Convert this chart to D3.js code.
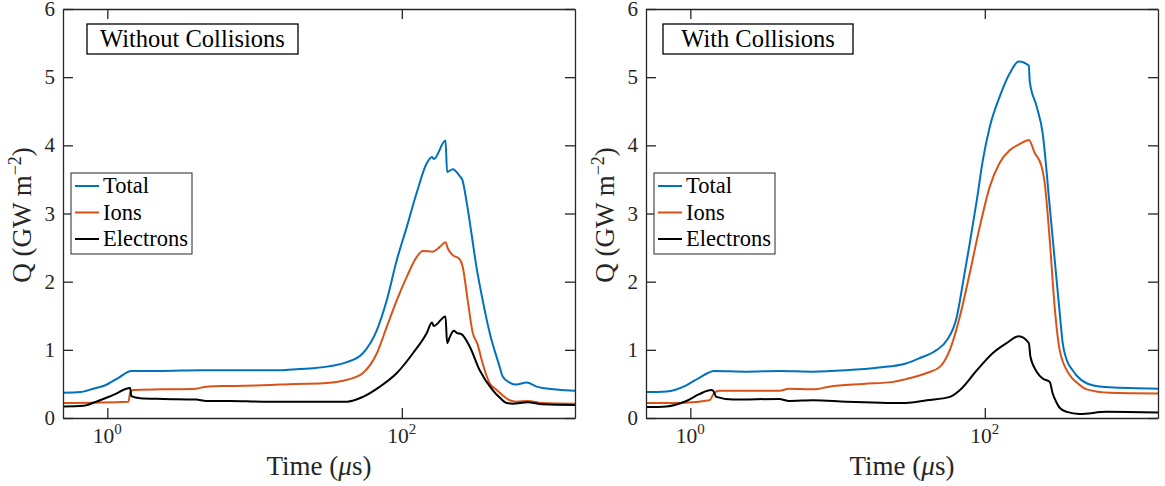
<!DOCTYPE html>
<html><head><meta charset="utf-8">
<script src="https://cdn.jsdelivr.net/npm/d3@7"></script>
<style>
body{margin:0;background:#fff}
text{font-family:"Liberation Serif","Times New Roman",serif;fill:#262626}
</style>
</head><body>
<svg id="c" width="1165" height="486"></svg>
<script>
// ---- data: [time (µs), Q (GW m^-2)] ----
const leftTotal = [[0.5,0.37],[0.656,0.38],[0.804,0.43],[0.969,0.48],[1.19,0.59],[1.455,0.69],[2.29,0.69],[4.27,0.70],[9.32,0.70],[14.9,0.70],[20.3,0.72],[24.9,0.73],[42.4,0.82],[54.4,0.95],[67.7,1.29],[79.1,1.73],[92.5,2.32],[108,2.80],[126,3.30],[148,3.74],[160,3.83],[165,3.80],[198,4.07],[203,3.61],[222,3.65],[247,3.55],[258,3.49],[274,3.20],[297,2.71],[321,2.22],[354,1.73],[395,1.25],[462,0.75],[484,0.61],[540,0.52],[599,0.49],[704,0.52],[823,0.46],[903,0.44],[1500,0.40]];
const leftIons = [[0.5,0.22],[1.39,0.24],[1.43,0.37],[1.50,0.41],[2.40,0.42],[4.01,0.43],[4.69,0.46],[6.82,0.47],[11.4,0.48],[19.1,0.50],[29.1,0.51],[42.4,0.56],[54.4,0.66],[67.7,0.95],[79.1,1.34],[92.5,1.73],[108,2.07],[126,2.36],[139,2.45],[162,2.44],[181,2.51],[198,2.58],[205,2.49],[222,2.39],[247,2.33],[259,2.22],[280,1.73],[303,1.25],[327,1.08],[354,0.80],[395,0.51],[441,0.41],[540,0.26],[599,0.24],[714,0.25],[903,0.22],[1500,0.21]];
const leftElectrons = [[0.5,0.17],[0.688,0.18],[0.842,0.24],[1.10,0.34],[1.43,0.44],[1.455,0.32],[1.67,0.29],[2.40,0.28],[4.01,0.27],[4.69,0.25],[6.82,0.25],[11.4,0.24],[29.1,0.24],[42.4,0.24],[54.4,0.31],[71.0,0.46],[92.5,0.66],[119,0.95],[148,1.25],[160,1.40],[165,1.35],[198,1.49],[203,1.10],[212,1.19],[225,1.28],[236,1.25],[254,1.23],[289,1.05],[338,0.70],[414,0.41],[462,0.30],[515,0.22],[566,0.21],[714,0.23],[903,0.20],[1500,0.19]];

const rightTotal = [[0.5,0.38],[0.688,0.39],[0.94,0.48],[1.15,0.59],[1.455,0.69],[2.40,0.68],[4.01,0.69],[6.82,0.68],[11.4,0.70],[19.1,0.74],[29.1,0.80],[36.2,0.88],[47.3,1.00],[55.2,1.14],[64.6,1.49],[71.0,1.98],[79.1,2.57],[88.3,3.20],[96.9,3.78],[108,4.27],[126,4.71],[148,5.06],[170,5.23],[199,5.17],[202,4.93],[225,4.57],[247,4.18],[276,3.10],[298,2.33],[322,1.56],[338,1.10],[360,0.85],[395,0.70],[421,0.62],[491,0.51],[540,0.48],[704,0.45],[1500,0.43]];
const rightIons = [[0.5,0.22],[0.842,0.22],[1.35,0.26],[1.455,0.37],[1.57,0.40],[2.40,0.40],[4.01,0.40],[4.69,0.43],[6.82,0.42],[8.75,0.46],[14.9,0.50],[23.8,0.53],[29.1,0.57],[40.4,0.66],[49.5,0.75],[57.9,1.00],[67.7,1.49],[79.1,2.13],[92.5,2.81],[108,3.39],[126,3.74],[148,3.93],[173,4.02],[199,4.08],[218,3.89],[243,3.69],[255,3.45],[276,2.61],[298,1.63],[322,1.00],[377,0.63],[421,0.52],[491,0.42],[704,0.37],[1500,0.36]];
const rightElectrons = [[0.5,0.16],[0.688,0.17],[0.94,0.25],[1.15,0.35],[1.39,0.41],[1.43,0.40],[1.50,0.31],[1.96,0.27],[4.01,0.28],[4.69,0.25],[6.82,0.26],[11.4,0.24],[29.1,0.22],[40.4,0.26],[57.9,0.31],[67.7,0.41],[88.3,0.70],[113,0.95],[141,1.10],[170,1.20],[199,1.10],[204,0.90],[225,0.68],[247,0.58],[276,0.53],[289,0.36],[308,0.22],[322,0.15],[360,0.09],[441,0.06],[671,0.09],[1500,0.08]];

const seriesNames = ["Total","Ions","Electrons"];
const seriesColors = ["#0072BD","#D95319","#000000"];
const panelTitles = ["Without Collisions","With Collisions"];
const timeDomain = [0.5, 1500];
const timeTicks = [1, 100];
const timeTickExp = ["0","2"];
const qDomain = [0, 6];
const qTicks = [0,1,2,3,4,5,6];

// ---- layout ----
const svg = d3.select("#c");
const yTop = 9, yBottom = 418;
const panels = [
  {x0:63, x1:575, title:panelTitles[0], data:[leftTotal,leftIons,leftElectrons], titleW:211, titleOff:24},
  {x0:646, x1:1158, title:panelTitles[1], data:[rightTotal,rightIons,rightElectrons], titleW:190, titleOff:17}
];
const axisColor = "#262626";

panels.forEach((p, pi) => {
  const x = d3.scaleLog().domain(timeDomain).range([p.x0, p.x1]);
  const y = d3.scaleLinear().domain(qDomain).range([yBottom, yTop]);
  const g = svg.append("g");

  // lines
  const line = d3.line().x(d => x(d[0])).y(d => y(d[1])).curve(d3.curveMonotoneX);
  const clipId = "clip" + pi;
  svg.append("clipPath").attr("id", clipId).append("rect")
    .attr("x", p.x0).attr("y", yTop).attr("width", p.x1 - p.x0).attr("height", yBottom - yTop);
  const lg = g.append("g").attr("clip-path", `url(#${clipId})`);
  p.data.forEach((s, i) => {
    lg.append("path").datum(s).attr("d", line)
      .attr("fill", "none").attr("stroke", seriesColors[i])
      .attr("stroke-width", 2).attr("stroke-linejoin", "round").attr("stroke-linecap","round");
  });

  // axes
  const styleAxis = sel => {
    sel.selectAll("path.domain").attr("stroke", axisColor).attr("stroke-width", 1.3);
    sel.selectAll(".tick line").attr("stroke", axisColor).attr("stroke-width", 1.3);
    sel.selectAll(".tick text").remove();
  };
  g.append("g").attr("transform", `translate(0,${yBottom})`)
    .call(d3.axisBottom(x).tickValues(timeTicks).tickSizeInner(-10).tickSizeOuter(0)).call(styleAxis);
  g.append("g").attr("transform", `translate(0,${yTop})`)
    .call(d3.axisTop(x).tickValues(timeTicks).tickSizeInner(-10).tickSizeOuter(0)).call(styleAxis);
  g.append("g").attr("transform", `translate(${p.x0},0)`)
    .call(d3.axisLeft(y).tickValues(qTicks).tickSizeInner(-10).tickSizeOuter(0)).call(styleAxis);
  g.append("g").attr("transform", `translate(${p.x1},0)`)
    .call(d3.axisRight(y).tickValues(qTicks).tickSizeInner(-10).tickSizeOuter(0)).call(styleAxis);

  // y tick labels
  qTicks.forEach(v => {
    g.append("text").attr("x", p.x0 - 8).attr("y", y(v) + 7)
      .attr("text-anchor", "end").attr("font-size", 21).text(v);
  });
  // x tick labels
  timeTicks.forEach((v, i) => {
    const t = g.append("text").attr("x", x(v)).attr("y", 443)
      .attr("text-anchor", "middle").attr("font-size", 21.5);
    t.append("tspan").text("10");
    t.append("tspan").attr("font-size", 15).attr("dy", -9).text(timeTickExp[i]);
  });

  // x label
  const cx = (p.x0 + p.x1) / 2;
  const xl = g.append("text").attr("x", cx).attr("y", 475)
    .attr("text-anchor", "middle").attr("font-size", 27);
  xl.append("tspan").text("Time (");
  xl.append("tspan").attr("font-style", "italic").text("μ");
  xl.append("tspan").text("s)");

  // y label
  const yl = g.append("text").attr("transform", `translate(${p.x0 - 32},215) rotate(-90)`)
    .attr("text-anchor", "middle").attr("font-size", 27);
  yl.append("tspan").text("Q (GW m");
  yl.append("tspan").attr("font-size", 18).attr("dy", -10).text("−2");
  yl.append("tspan").attr("dy", 10).text(")");

  // title box
  const tx = p.x0 + p.titleOff;
  g.append("rect").attr("x", tx).attr("y", 24).attr("width", p.titleW).attr("height", 30)
    .attr("fill", "#fff").attr("stroke", "#000").attr("stroke-width", 1.3);
  g.append("text").attr("x", tx + p.titleW / 2).attr("y", 47)
    .attr("text-anchor", "middle").attr("font-size", 24.5).style("fill", "#000").text(p.title);

  // legend
  const lx = p.x0 + 8, ly = 173;
  g.append("rect").attr("x", lx).attr("y", ly).attr("width", 121).attr("height", 81)
    .attr("fill", "#fff").attr("stroke", "#262626").attr("stroke-width", 1);
  seriesNames.forEach((n, i) => {
    const yy = 186 + i * 26.5;
    g.append("line").attr("x1", lx + 4).attr("x2", lx + 28).attr("y1", yy).attr("y2", yy)
      .attr("stroke", seriesColors[i]).attr("stroke-width", 2);
    g.append("text").attr("x", lx + 32).attr("y", yy + 7).attr("font-size", 22.5)
      .style("fill", "#000").text(n);
  });
});
</script>
</body></html>
